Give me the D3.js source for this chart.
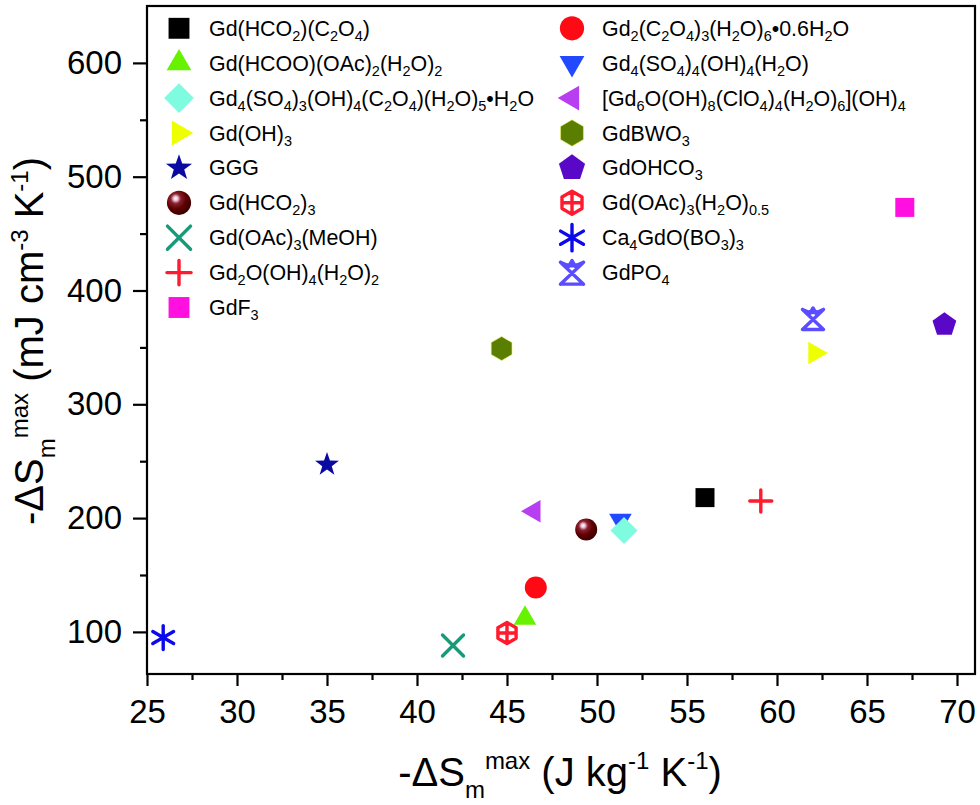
<!DOCTYPE html>
<html>
<head>
<meta charset="utf-8">
<script src="https://cdn.jsdelivr.net/npm/d3@7"></script>
<style>
  body { margin: 0; background: #fff; }
  text { font-family: "Liberation Sans", Arial, sans-serif; fill: #000; }
</style>
</head>
<body>
<svg id="chart" width="980" height="805"></svg>
<script>
// compounds, _{..} = subscript
const compounds = [
    "Gd(HCO_{2})(C_{2}O_{4})",
    "Gd(HCOO)(OAc)_{2}(H_{2}O)_{2}",
    "Gd_{4}(SO_{4})_{3}(OH)_{4}(C_{2}O_{4})(H_{2}O)_{5}•H_{2}O",
    "Gd(OH)_{3}",
    "GGG",
    "Gd(HCO_{2})_{3}",
    "Gd(OAc)_{3}(MeOH)",
    "Gd_{2}O(OH)_{4}(H_{2}O)_{2}",
    "GdF_{3}",
    "Gd_{2}(C_{2}O_{4})_{3}(H_{2}O)_{6}•0.6H_{2}O",
    "Gd_{4}(SO_{4})_{4}(OH)_{4}(H_{2}O)",
    "[Gd_{6}O(OH)_{8}(ClO_{4})_{4}(H_{2}O)_{6}](OH)_{4}",
    "GdBWO_{3}",
    "GdOHCO_{3}",
    "Gd(OAc)_{3}(H_{2}O)_{0.5}",
    "Ca_{4}GdO(BO_{3})_{3}",
    "GdPO_{4}"
];

// -dSm max in J kg-1 K-1
const entropyMass = [56, 46, 51.5, 62.1, 35, 49.4, 42, 59.1, 67.1, 46.6, 51.3, 46.5, 44.7, 69.3, 45, 25.9, 62];
// -dSm max in mJ cm-3 K-1
const entropyVol = [218, 112, 189, 345, 247, 190, 88, 215, 473, 139, 198, 206, 349, 370, 99, 95, 375];

const symbols = ["square", "triUp", "diamond", "triRight", "star", "sphere", "cross", "plus", "square",
                 "circle", "triDown", "triLeft", "hexagon", "pentagon", "hexCross", "asterisk", "netX"];
const colors = ["#000000", "#66f200", "#7ffbe0", "#eeff00", "#0a0aa3", "#5c0000", "#179a78", "#ff1a2e", "#ff10e0",
                "#ff0a14", "#2249ff", "#b83ef2", "#5a7f00", "#5a08c8", "#ff1a2e", "#0a0aea", "#5a4cff"];

const xTicks = [25, 30, 35, 40, 45, 50, 55, 60, 65, 70];
const xMinor = [27.5, 32.5, 37.5, 42.5, 47.5, 52.5, 57.5, 62.5, 67.5];
const yTicks = [100, 200, 300, 400, 500, 600];
const yMinor = [150, 250, 350, 450, 550];

const leftColumnCount = 9;
const plotOrder = [10, 0, 1, 2, 3, 4, 5, 6, 7, 8, 9, 11, 12, 13, 14, 15, 16];

const svg = d3.select("#chart");
const plot = { left: 147, right: 975, top: 6, bottom: 674 };

const x = d3.scaleLinear().domain([25, 71]).range([plot.left, plot.right]);
const y = d3.scaleLinear().domain([63, 650]).range([plot.bottom, plot.top]);

const defs = svg.append("defs");
const grad = defs.append("radialGradient")
    .attr("id", "sphere")
    .attr("cx", "0.38").attr("cy", "0.35").attr("r", "0.7")
    .attr("fx", "0.36").attr("fy", "0.32");
grad.append("stop").attr("offset", "0").attr("stop-color", "#ffffff");
grad.append("stop").attr("offset", "0.12").attr("stop-color", "#f0c8d8");
grad.append("stop").attr("offset", "0.3").attr("stop-color", "#8a2030");
grad.append("stop").attr("offset", "0.6").attr("stop-color", "#5c0000");
grad.append("stop").attr("offset", "1").attr("stop-color", "#3a0000");

function poly(n, r, rot) {
    const pts = d3.range(n).map(i => {
        const a = rot + i * 2 * Math.PI / n;
        return [r * Math.cos(a), r * Math.sin(a)];
    });
    return "M" + pts.join("L") + "Z";
}

function starPath(ro, ri) {
    const pts = d3.range(10).map(i => {
        const a = -Math.PI / 2 + i * Math.PI / 5;
        const r = i % 2 ? ri : ro;
        return [r * Math.cos(a), r * Math.sin(a)];
    });
    return "M" + pts.join("L") + "Z";
}

function drawMarker(g, shape, color, k) {
    const filled = {
        square: `M${-9.5 * k},${-9.5 * k}h${19 * k}v${19 * k}h${-19 * k}Z`,
        triUp: poly(3, 13 * k, -Math.PI / 2),
        triDown: poly(3, 13 * k, Math.PI / 2),
        triRight: poly(3, 13 * k, 0),
        triLeft: poly(3, 13 * k, Math.PI),
        diamond: poly(4, 13.5 * k, 0),
        star: starPath(12.5 * k, 5 * k),
        hexagon: poly(6, 12 * k, -Math.PI / 2),
        pentagon: poly(5, 12.5 * k, -Math.PI / 2)
    };
    if (filled[shape]) {
        g.append("path").attr("d", filled[shape]).attr("fill", color)
            .attr("stroke", shape === "hexagon" ? "#e8f060" : "none").attr("stroke-width", 0.6);
        return;
    }
    if (shape === "circle") {
        g.append("circle").attr("r", 11 * k).attr("fill", color);
        return;
    }
    if (shape === "sphere") {
        g.append("circle").attr("r", 11 * k).attr("fill", "url(#sphere)");
        return;
    }
    let d;
    const a = 10.5 * k;
    if (shape === "cross") {
        d = `M${-a},${-a}L${a},${a}M${a},${-a}L${-a},${a}`;
    } else if (shape === "plus") {
        d = `M${-11 * k},0H${11 * k}M0,${-11 * k}V${11 * k}`;
    } else if (shape === "hexCross") {
        const r = 10.5 * k;
        d = poly(6, r, -Math.PI / 2) + `M${-r * 0.866},0H${r * 0.866}M0,${-r}V${r}`;
    } else if (shape === "asterisk") {
        const r = 12 * k;
        d = [90, 30, 150].map(deg => {
            const t = deg * Math.PI / 180;
            return `M${r * Math.cos(t)},${r * Math.sin(t)}L${-r * Math.cos(t)},${-r * Math.sin(t)}`;
        }).join("");
    } else if (shape === "netX") {
        const r = 10.5 * k;
        d = `M${-r},${-r * 0.9}L${r},${r}M${r},${-r * 0.9}L${-r},${r}` +
            `M${-r},${r}H${r}M${-r},${-r * 0.9}Q0,${-r * 0.3} ${r},${-r * 0.9}` +
            `M${-r * 0.4},${-r * 0.35}L0,${-r * 1.05}L${r * 0.4},${-r * 0.35}`;
    }
    g.append("path").attr("d", d).attr("fill", "none").attr("stroke", color)
        .attr("stroke-width", 3.4).attr("stroke-linecap", "round").attr("stroke-linejoin", "round");
}

// text with _{sub} and ^{sup} parts
function richText(t, str, size, small, subShift, supShift) {
    const parts = str.split(/(_\{[^}]*\}|\^\{[^}]*\})/).filter(s => s.length);
    let offset = 0;
    parts.forEach(p => {
        let target = 0, fs = size, txt = p;
        if (p.startsWith("_{")) { target = subShift; fs = small; txt = p.slice(2, -1); }
        else if (p.startsWith("^{")) { target = -supShift; fs = small; txt = p.slice(2, -1); }
        t.append("tspan").attr("dy", target - offset).attr("font-size", fs).text(txt);
        offset = target;
    });
}

// axes
const xAxis = d3.axisBottom(x).tickValues(xTicks).tickSize(12).tickPadding(14).tickFormat(d3.format("d"));
const xAxisMinor = d3.axisBottom(x).tickValues(xMinor).tickSize(6).tickFormat("");
const yAxis = d3.axisLeft(y).tickValues(yTicks).tickSize(14).tickPadding(11).tickFormat(d3.format("d"));
const yAxisMinor = d3.axisLeft(y).tickValues(yMinor).tickSize(7).tickFormat("");

function styleAxis(g) {
    g.select(".domain").remove();
    g.selectAll("line").attr("stroke", "#000").attr("stroke-width", 2.2);
    g.selectAll("text").attr("font-size", 33).attr("font-family", "Liberation Sans, Arial, sans-serif").attr("fill", "#000");
}

svg.append("g").attr("transform", `translate(0,${plot.bottom})`).call(xAxis).call(styleAxis);
svg.append("g").attr("transform", `translate(0,${plot.bottom})`).call(xAxisMinor).call(styleAxis);
svg.append("g").attr("transform", `translate(${plot.left},0)`).call(yAxis).call(styleAxis);
svg.append("g").attr("transform", `translate(${plot.left},0)`).call(yAxisMinor).call(styleAxis);

// points
const pts = svg.append("g");
plotOrder.forEach(i => {
    const g = pts.append("g").attr("transform", `translate(${x(entropyMass[i])},${y(entropyVol[i])})`);
    drawMarker(g, symbols[i], colors[i], 1);
});

// frame
svg.append("rect")
    .attr("x", plot.left).attr("y", plot.top)
    .attr("width", plot.right - plot.left).attr("height", plot.bottom - plot.top)
    .attr("fill", "none").attr("stroke", "#000").attr("stroke-width", 2.2);

// legend
const legend = svg.append("g");
compounds.forEach((name, i) => {
    const col = i < leftColumnCount ? 0 : 1;
    const row = col ? i - leftColumnCount : i;
    const mx = col ? 572 : 179;
    const my = 28.3 + row * 34.9;
    const g = legend.append("g").attr("transform", `translate(${mx},${my})`);
    drawMarker(g, symbols[i], colors[i], 1.1);
    const t = legend.append("text").attr("x", mx + 30).attr("y", my + 7.5).attr("font-size", 21.4);
    richText(t, name, 21.4, 14.5, 5, 8);
});

// axis titles
const xt = svg.append("text").attr("x", 560).attr("y", 786).attr("text-anchor", "middle").attr("font-size", 40);
richText(xt, "-ΔS_{m}^{max} (J kg^{-1} K^{-1})", 40, 24, 12, 17);

const yt = svg.append("text").attr("transform", "translate(43,341) rotate(-90)")
    .attr("text-anchor", "middle").attr("font-size", 40);
richText(yt, "-ΔS_{m}^{max} (mJ cm^{-3} K^{-1})", 40, 24, 12, 15);
</script>
</body>
</html>
